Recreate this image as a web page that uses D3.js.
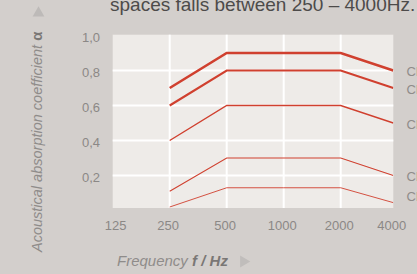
<!DOCTYPE html>
<html>
<head>
<meta charset="utf-8">
<script src="https://cdn.jsdelivr.net/npm/d3@7"></script>
<style>
  body { margin: 0; background: #d3cfcc; }
  svg { display: block; font-family: "Liberation Sans", Arial, sans-serif; }
</style>
</head>
<body>
<div id="chart"></div>
<script>
// frequency bands (Hz) and absorption classes
var freqs = [250, 500, 1000, 2000, 4000];
var tickFreqs = [125, 250, 500, 1000, 2000, 4000];
var gridFreqs = [250, 500, 1000, 2000];
var yTicks = [0.2, 0.4, 0.6, 0.8, 1.0];
var classNames = ["Class A", "Class B", "Class C", "Class D", "Class E"];
var classA = [0.70, 0.90, 0.90, 0.90, 0.80];
var classB = [0.60, 0.80, 0.80, 0.80, 0.70];
var classC = [0.40, 0.60, 0.60, 0.60, 0.50];
var classD = [0.11, 0.30, 0.30, 0.30, 0.20];
var classE = [0.02, 0.13, 0.13, 0.13, 0.045];
var series = [classA, classB, classC, classD, classE];
var strokeW = [2.6, 2.1, 1.4, 1.1, 0.9];

var width = 417, height = 274;

var svg = d3.select("#chart").append("svg")
    .attr("width", width)
    .attr("height", height);

//plot box
var plot = {left: 112.7, right: 393.3, top: 34.7, bottom: 208};

var x = d3.scaleLog()
    .domain([125, 2000, 4000])
    .range([plot.left, 340.7, plot.right]);

var y = d3.scaleLinear()
    .domain([0, 1])
    .range([210.5, 35.5]);

svg.append("defs").append("clipPath")
    .attr("id", "clip")
  .append("rect")
    .attr("x", plot.left)
    .attr("y", plot.top)
    .attr("width", plot.right - plot.left)
    .attr("height", plot.bottom - plot.top);

svg.append("rect")
    .attr("x", plot.left)
    .attr("y", plot.top)
    .attr("width", plot.right - plot.left)
    .attr("height", plot.bottom - plot.top)
    .attr("fill", "#eeebe8");

// grid
svg.append("g").selectAll("line")
    .data(gridFreqs)
    .enter().append("line")
    .attr("x1", function(d) { return x(d); })
    .attr("x2", function(d) { return x(d); })
    .attr("y1", plot.top)
    .attr("y2", plot.bottom)
    .attr("stroke", "#fff")
    .attr("stroke-width", 2);

svg.append("g").selectAll("line")
    .data(yTicks.filter(function(d) { return d < 1; }))
    .enter().append("line")
    .attr("x1", plot.left)
    .attr("x2", plot.right)
    .attr("y1", function(d) { return y(d); })
    .attr("y2", function(d) { return y(d); })
    .attr("stroke", "#fff")
    .attr("stroke-width", 2);

// tick labels
svg.append("g").selectAll("text")
    .data(yTicks)
    .enter().append("text")
    .attr("x", 100)
    .attr("y", function(d) { return y(d) + 6.2; })
    .attr("text-anchor", "end")
    .attr("font-size", "13px")
    .attr("fill", "#8b8886")
    .text(function(d) { return d3.format(".1f")(d).replace(".", ","); });

svg.append("g").selectAll("text")
    .data(tickFreqs)
    .enter().append("text")
    .attr("x", function(d) { return x(d) + (d === 125 ? 3 : -1.5); })
    .attr("y", 229.7)
    .attr("text-anchor", "middle")
    .attr("font-size", "13px")
    .attr("fill", "#8b8886")
    .text(function(d) { return d; });

// lines
var line = d3.line()
    .x(function(d, i) { return x(freqs[i]); })
    .y(function(d) { return y(d); });

svg.append("g")
    .attr("clip-path", "url(#clip)")
    .selectAll("path")
    .data(series)
    .enter().append("path")
    .attr("d", line)
    .attr("fill", "none")
    .attr("stroke", "#d0402f")
    .attr("stroke-width", function(d, i) { return strokeW[i]; });

// class labels at the line ends, kept inside the plot
var labY = series.map(function(s) { return Math.min(y(s[s.length - 1]) + 1, 196); });
for (var i = labY.length - 2; i >= 0; i--) {
    if (labY[i + 1] - labY[i] < 16) labY[i] = labY[i + 1] - 16;
}
svg.append("g").selectAll("text")
    .data(classNames)
    .enter().append("text")
    .attr("x", 406.5)
    .attr("y", function(d, i) { return labY[i] + 4.7; })
    .attr("font-size", "13px")
    .attr("fill", "#8f8c8a")
    .text(function(d) { return d; });

// heading (last line only visible)
svg.append("text")
    .attr("x", 110)
    .attr("y", 10.5)
    .attr("font-size", "19px")
    .attr("fill", "#4d4b4a")
    .text("spaces falls between 250 \u2013 4000Hz.");

// y axis title
var yt = svg.append("text")
    .attr("transform", "translate(42,252) rotate(-90)")
    .attr("font-size", "14.5px")
    .attr("font-style", "italic")
    .attr("fill", "#8f8c8a");
yt.append("tspan").text("Acoustical absorption coefficient ");
yt.append("tspan")
    .attr("font-weight", "bold")
    .attr("font-style", "normal")
    .attr("font-size", "15px")
    .attr("fill", "#7a7775")
    .text("\u03b1");

svg.append("path")
    .attr("d", d3.symbol().type(d3.symbolTriangle).size(60)())
    .attr("transform", "translate(38.5,13)")
    .attr("fill", "#bdbab8");

// x axis title
var xt = svg.append("text")
    .attr("x", 117)
    .attr("y", 266)
    .attr("font-size", "15px")
    .attr("font-style", "italic")
    .attr("fill", "#8f8c8a");
xt.append("tspan").text("Frequency ");
xt.append("tspan")
    .attr("font-weight", "bold")
    .attr("fill", "#7a7775")
    .text("f / Hz");

svg.append("path")
    .attr("d", d3.symbol().type(d3.symbolTriangle).size(60)())
    .attr("transform", "translate(243.5,261.5) rotate(90)")
    .attr("fill", "#c0bdbb");
</script>
</body>
</html>
